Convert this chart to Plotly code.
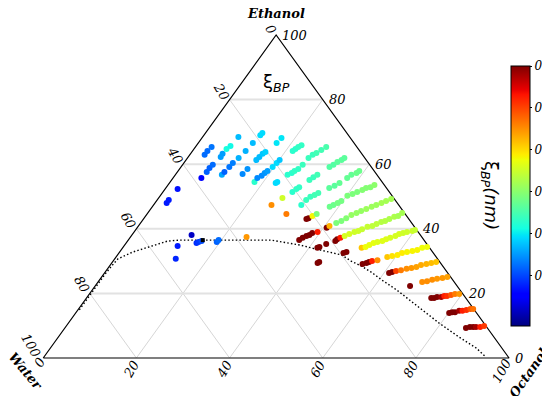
import plotly.graph_objects as go

# ---------------- data (ternary composition in %) ----------------
octanol = [
    2.5, 2.5, 2.7, 6.1,
    3.2, 3.2, 3.5,
    6.3, 6.3, 6.5,
    7.0, 6.9,
    10.0, 10.1,
    7.0, 7.4,
    7.7,
    10.4, 10.5,
    11.0,
    14.3, 14.6,
    11.4,
    11.7,
    12.1, 12.2,
    15.1, 15.3, 15.5, 15.8,
    18.1, 18.1, 18.7, 18.9, 19.2,
    19.7, 19.9, 20.1,
    22.8, 23.0,
    16.8, 17.1,
    24.1, 24.7, 25.0, 25.5,
    21.5, 21.8, 22.1, 22.5,
    27.8, 28.2, 28.5,
    31.7,
    25.8,
    32.0, 32.4, 33.0, 33.5,
    29.6, 30.0, 30.5,
    26.0, 26.4, 26.9, 27.5, 28.1,
    31.9, 32.4, 32.8, 33.4, 33.7,
    35.1, 35.9, 36.5,
    37.4, 37.8, 38.6, 38.9,
    38.1, 38.6, 39.2, 39.7,
    40.2, 41.0, 41.7, 42.5, 43.0, 43.8, 44.3,
    36.7, 37.1, 37.6, 38.1, 38.4, 39.4, 40.7, 41.0, 42.0, 42.8,
    43.4, 44.0, 44.8, 45.5, 46.3, 47.1, 47.8, 48.6, 49.3, 50.1,
    35.0, 35.3, 35.8, 36.4,
    25.3, 26.6, 29.9, 24.9,
    12.8, 11.5, 13.1, 15.1, 15.4, 15.9, 19.3, 19.4,
    41.8, 42.1, 43.1, 44.6, 44.7, 45.2, 45.8, 46.5, 47.3, 48.0,
    48.5, 49.3, 50.2, 50.8, 51.5, 52.2, 52.8, 53.5, 54.2, 54.6,
    44.2, 44.4, 48.2, 48.7, 51.3, 52.0, 52.5, 53.1, 53.8,
    54.7, 55.2, 55.9, 56.7, 57.2, 57.9, 58.6, 59.6, 60.0,
    54.0, 54.7, 55.1, 55.6, 56.6, 58.2, 59.1,
    60.1, 60.8, 61.7, 62.7, 63.6, 64.3, 65.2,
    61.1, 61.6, 62.3, 63.2, 64.2, 65.1, 66.0, 66.7, 67.7, 68.6, 69.5,
    67.6, 69.6, 70.5, 71.4, 72.3, 73.3, 74.2,
    74.0, 74.6, 75.1, 76.0, 76.5, 77.1, 77.8, 78.5, 79.4,
    80.2, 80.7, 81.3, 82.0, 82.7, 83.4, 84.1, 84.7,
    86.1, 86.8, 87.5, 88.1, 89.0, 89.7,
]

ethanol = [
    48.0, 48.9, 52.3, 55.7,
    62.9, 64.1, 65.3,
    57.6, 58.8, 59.8,
    62.2, 63.2,
    56.7, 57.6,
    64.7, 65.6,
    68.4,
    59.1, 60.4,
    61.9,
    57.0, 58.5,
    64.1,
    66.6,
    69.0, 69.7,
    61.3, 62.2, 63.2, 63.8,
    54.5, 55.7, 56.4, 57.3, 57.9,
    59.1, 60.4, 61.3,
    54.2, 54.5,
    66.6, 68.1,
    56.7, 57.3, 57.9, 58.5,
    64.1, 64.7, 65.3, 65.9,
    51.4, 52.3, 52.9,
    47.4,
    59.8,
    48.9, 49.9, 50.5, 51.1,
    55.1, 56.0, 56.7,
    61.9, 62.9, 63.5, 64.4, 65.3,
    59.1, 59.8, 60.7, 61.3, 61.9,
    52.6, 53.3, 54.2,
    55.7, 56.7, 57.3, 57.9,
    46.8, 47.4, 48.0, 48.6,
    50.2, 50.8, 51.4, 52.0, 52.6, 52.9, 53.6,
    36.5, 37.2, 37.8, 38.1, 38.7, 39.0, 40.3, 40.9, 41.8, 42.4,
    43.3, 44.3, 44.9, 45.5, 46.1, 46.8, 47.4, 48.0, 48.6, 49.2,
    43.0, 43.3, 44.0, 44.6,
    47.4, 49.5, 44.6, 37.5,
    38.1, 34.7, 30.7, 35.6, 35.9, 36.2, 35.9, 36.5,
    34.1, 34.4, 35.3, 36.2, 36.8, 37.2, 37.8, 38.4, 39.0, 39.3,
    39.9, 40.6, 40.9, 41.5, 42.1, 42.4, 43.0, 43.7, 44.0, 44.9,
    29.4, 29.7, 32.5, 32.8, 34.1, 34.4, 35.0, 35.6, 35.9,
    36.2, 36.8, 37.2, 37.8, 38.4, 38.7, 39.0, 39.3, 39.6,
    29.1, 29.4, 29.7, 30.0, 30.3, 31.3, 31.6,
    31.9, 32.5, 32.8, 33.1, 33.4, 34.1, 34.4,
    26.3, 26.6, 26.9, 27.2, 27.6, 27.9, 28.2, 28.8, 29.1, 29.4, 29.7,
    22.3, 23.5, 23.8, 24.2, 24.5, 24.8, 25.1,
    18.6, 18.6, 18.9, 18.9, 19.2, 19.2, 19.5, 19.8, 19.8,
    13.9, 14.2, 14.2, 14.6, 14.6, 14.9, 15.2, 15.2,
    9.3, 9.6, 9.6, 9.6, 9.6, 9.9,
]

# xi_BP (relative scale of the colour bar, 0 = bottom, 1 = top)
xi_bp = [
    .15, .15, .14, .12,
    .23, .23, .24,
    .22, .22, .23,
    .28, .28,
    .29, .22,
    .38, .37,
    .31,
    .24, .25,
    .30,
    .26, .27,
    .30,
    .31,
    .34, .34,
    .31, .31, .32, .33,
    .40, .26, .26, .27, .28,
    .34, .34, .32,
    .34, .34,
    .35, .35,
    .40, .40, .41, .41,
    .40, .40, .41, .41,
    .40, .41, .41,
    .40,
    .42,
    .42, .42, .43, .43,
    .42, .42, .43,
    .42, .42, .43, .43, .44,
    .45, .45, .46, .46, .46,
    .46, .46, .47,
    .47, .47, .48, .48,
    .48, .48, .49, .49,
    .50, .50, .50, .51, .51, .51, .52,
    1, 1, 1, 1, 1, .88, 1, .72, .50, .50,
    .51, .53, .53, .53, .54, .54, .54, .55, .55, .55,
    1, 1, .65, .50,
    .76, .60, .78, .75,
    .06, .15, .16, .17, .18, .20, .22, .23,
    1, 1, 1, 1, 1, .88, .61, .61, .60, .60,
    .59, .59, .58, .58, .57, .57, .56, .56, .55, .55,
    1, 1, 1, 1, .70, .64, .63, .63, .62,
    .62, .62, .61, .61, .61, .60, .60, .60, .59,
    1, 1, 1, .88, .76, .70, .67,
    .66, .66, .65, .65, .65, .64, .64,
    1, 1, .84, .78, .76, .75, .74, .73, .72, .71, .70,
    1, .76, .76, .76, .75, .75, .74,
    1, 1, 1, .97, .88, .86, .82, .78, .75,
    1, 1, 1, .97, .88, .86, .82, .79,
    1, 1, 1, .97, .88, .85,
]

# binodal curve (dotted)
binodal_octanol = [0.3, 0.3, 0.3, 0.3, 0.5, 0.7, 2.8, 5.7, 8.6, 11.0, 19.6, 26.0, 30.7, 33.4, 37.5,
                   41.8, 45.0, 48.1, 51.1, 54.0, 57.1, 60.7, 65.3, 69.6, 73.9, 79.6, 86.0, 91.4, 94.9]
binodal_ethanol = [14.9, 18.6, 22.6, 26.3, 29.1, 30.7, 32.8, 34.4, 36.2, 36.5, 36.5, 36.5, 36.5, 35.9, 35.0,
                   33.7, 32.8, 31.9, 30.0, 28.5, 26.6, 24.1, 21.1, 18.0, 14.9, 10.8, 6.5, 3.1, 0.3]

critical_octanol = [16.0]
critical_ethanol = [36.5]

grid_ticks = [20, 40, 60, 80]
axis_ticks = [0, 20, 40, 60, 80, 100]
cbar_tickvals = [1.0, 0.8385, 0.677, 0.5155, 0.354, 0.1925]
cbar_ticktext = ["0", "0", "0", "0", "0", "0"]

assert len(octanol) == len(ethanol) == len(xi_bp)


# ---------------- helpers ----------------
def project(o_list, e_list):
    """ternary (octanol, ethanol) -> plane coordinates of the triangle"""
    xs = [o + e / 2.0 for o, e in zip(o_list, e_list)]
    ys = [e for e in e_list]
    return xs, ys


def grid_family(kind):
    xs, ys = [], []
    for v in grid_ticks:
        if kind == "ethanol":
            oo, ee = [0, 100 - v], [v, v]
        elif kind == "octanol":
            oo, ee = [v, v], [0, 100 - v]
        else:  # water
            oo, ee = [100 - v, 0], [0, 100 - v]
        px, py = project(oo, ee)
        xs += px + [None]
        ys += py + [None]
    return xs, ys


jet = [
    [0.0, "rgb(0,0,127)"], [0.11, "rgb(0,0,255)"], [0.125, "rgb(0,0,255)"],
    [0.34, "rgb(0,219,255)"], [0.35, "rgb(0,230,247)"], [0.375, "rgb(21,255,226)"],
    [0.64, "rgb(239,255,8)"], [0.65, "rgb(247,245,0)"], [0.66, "rgb(255,236,0)"],
    [0.89, "rgb(255,19,0)"], [0.91, "rgb(232,0,0)"], [1.0, "rgb(127,0,0)"],
]

fig = go.Figure()

# grid
gx, gy = grid_family("octanol")
fig.add_trace(go.Scatter(x=gx, y=gy, mode="lines", line=dict(color="rgb(214,214,214)", width=1),
                         hoverinfo="skip"))
gx, gy = grid_family("water")
fig.add_trace(go.Scatter(x=gx, y=gy, mode="lines", line=dict(color="rgb(214,214,214)", width=1),
                         hoverinfo="skip"))
gx, gy = grid_family("ethanol")
fig.add_trace(go.Scatter(x=gx, y=gy, mode="lines", line=dict(color="rgb(226,226,226)", width=2),
                         hoverinfo="skip"))

# boundary
bx, by = project([0, 100, 0, 0], [0, 0, 100, 0])
fig.add_trace(go.Scatter(x=bx, y=by, mode="lines", line=dict(color="black", width=1.2),
                         hoverinfo="skip"))

# binodal
lx, ly = project(binodal_octanol, binodal_ethanol)
fig.add_trace(go.Scatter(x=lx, y=ly, mode="lines",
                         line=dict(color="black", width=1.4, dash="1.5px,2.2px"),
                         hoverinfo="skip"))

# data points
px, py = project(octanol, ethanol)
fig.add_trace(go.Scatter(
    x=px, y=py, mode="markers",
    marker=dict(size=6, color=xi_bp, colorscale=jet, cmin=0, cmax=1,
                line=dict(width=0), showscale=True,
                colorbar=dict(
                    thickness=19, thicknessmode="pixels",
                    len=260, lenmode="pixels",
                    x=511 / 542, xanchor="left", xpad=0,
                    y=1 - 196 / 396, yanchor="middle", ypad=0,
                    outlinecolor="black", outlinewidth=1,
                    tickvals=cbar_tickvals, ticktext=cbar_ticktext,
                    ticks="outside", ticklen=2, tickcolor="black",
                    tickfont=dict(family="DejaVu Serif", size=12, color="black", style="italic"),
                )),
    hoverinfo="skip"))

cx, cy = project(critical_octanol, critical_ethanol)
fig.add_trace(go.Scatter(x=cx, y=cy, mode="markers",
                         marker=dict(size=4, color="black", symbol="square"), hoverinfo="skip"))

# ---------------- annotations ----------------
serif_it = dict(family="DejaVu Serif", size=13, color="black", style="italic")
corner_font = dict(family="DejaVu Serif", size=13, color="black", style="italic", weight="bold")
ann = []

left_shift = {0: (-5, 6), 100: (-12, 13)}
for w in axis_ticks:  # left axis: Water
    tx, ty = project([0], [100 - w])
    sx, sy = left_shift.get(w, (-8, 8.5))
    ann.append(dict(x=tx[0], y=ty[0], xref="x", yref="y", text=str(w), showarrow=False,
                    textangle=60, xanchor="center", yanchor="middle", xshift=sx, yshift=sy,
                    font=serif_it))

for e in axis_ticks:  # right axis: Ethanol
    tx, ty = project([100 - e], [e])
    ann.append(dict(x=tx[0], y=ty[0], xref="x", yref="y", text=str(e), showarrow=False,
                    xanchor="left", yanchor="middle", xshift=4, yshift=0, font=serif_it))

bottom_shift = {0: (-4, -4), 100: (-8, -13)}
for o in axis_ticks:  # bottom axis: Octanol
    tx, ty = project([o], [0])
    sx, sy = bottom_shift.get(o, (-5.5, -11))
    ann.append(dict(x=tx[0], y=ty[0], xref="x", yref="y", text=str(o), showarrow=False,
                    textangle=-60, xanchor="center", yanchor="middle", xshift=sx, yshift=sy,
                    font=serif_it))

# corner labels
ax_, ay_ = project([0], [100])
ann.append(dict(x=ax_[0], y=ay_[0], xref="x", yref="y", text="Ethanol", showarrow=False,
                xanchor="center", yanchor="middle", yshift=22, font=corner_font))
ax_, ay_ = project([0], [0])
ann.append(dict(x=ax_[0], y=ay_[0], xref="x", yref="y", text="Water", showarrow=False,
                textangle=50, xanchor="center", yanchor="middle", xshift=-17, yshift=-13,
                font=corner_font))
ax_, ay_ = project([100], [0])
ann.append(dict(x=ax_[0], y=ay_[0], xref="x", yref="y", text="Octanol", showarrow=False,
                textangle=-55, xanchor="center", yanchor="middle", xshift=19, yshift=-15,
                font=corner_font))

# title and colour-bar label
ann.append(dict(x=277 / 542, y=1 - 83 / 396, xref="paper", yref="paper",
                text="ξ<sub><i>BP</i></sub>", showarrow=False, xanchor="center", yanchor="middle",
                font=dict(family="DejaVu Sans", size=18, color="black")))
ann.append(dict(x=491 / 542, y=1 - 195 / 396, xref="paper", yref="paper",
                text="ξ<sub><i>BP</i></sub><i>(nm)</i>", showarrow=False, textangle=90,
                xanchor="center", yanchor="middle",
                font=dict(family="DejaVu Sans", size=18, color="black")))

fig.update_layout(
    width=542, height=396,
    margin=dict(l=0, r=0, t=0, b=0),
    paper_bgcolor="white", plot_bgcolor="white",
    showlegend=False,
    xaxis=dict(range=[-9.278, 106.86], visible=False, fixedrange=True),
    yaxis=dict(range=[-11.765, 110.84], visible=False, fixedrange=True),
    annotations=ann,
)

fig.write_html("out.html", config={"displayModeBar": False},
               post_script="document.body.style.margin='0px';document.body.style.padding='0px';")
